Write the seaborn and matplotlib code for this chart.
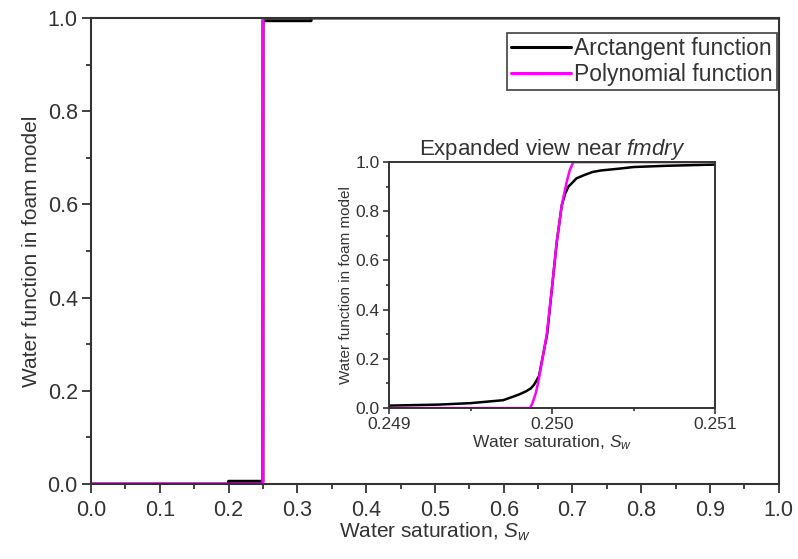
import numpy as np
import pandas as pd
import matplotlib
matplotlib.use("Agg")
import matplotlib.pyplot as plt
import seaborn as sns
from matplotlib.ticker import MultipleLocator

# main view, values
main_sw_arctan = [0.0, 0.2, 0.2, 0.2499, 0.24995, 0.25, 0.25005, 0.2501, 0.2501, 0.32, 0.32, 1.0]
main_fw_arctan = [0.0, 0.0, 0.006, 0.006, 0.3, 0.5, 0.7, 0.994, 0.994, 0.994, 1.0, 1.0]
main_sw_poly = [0.0, 0.2499, 0.25, 0.2501, 1.0]
main_fw_poly = [0.0, 0.0, 0.5, 1.0, 1.0]

# expanded view near fmdry
zoom_sw_arctan = [0.249, 0.2493, 0.2495, 0.2497, 0.24976, 0.2498, 0.24984, 0.24987, 0.24989,
                  0.24992, 0.24997, 0.25, 0.25003, 0.25006, 0.25008, 0.2501, 0.25013,
                  0.25015, 0.2502, 0.25025, 0.2503, 0.25042, 0.2505, 0.2507, 0.251]
zoom_fw_arctan = [0.01, 0.014, 0.02, 0.032, 0.046, 0.056, 0.068, 0.08, 0.095,
                  0.13, 0.3, 0.49, 0.68, 0.825, 0.87, 0.9, 0.92,
                  0.934, 0.948, 0.96, 0.966, 0.974, 0.98, 0.985, 0.99]
zoom_sw_poly = [0.249, 0.249865, 0.24988, 0.2499, 0.249916, 0.249967, 0.25, 0.250029,
                0.25006, 0.25009, 0.25011, 0.250131, 0.251]
zoom_fw_poly = [0.0, 0.0, 0.02, 0.06, 0.107, 0.297, 0.49, 0.676, 0.825, 0.92, 0.97, 1.0, 1.0]

labels = ["Arctangent function", "Polynomial function"]
colors = {"Arctangent function": "black", "Polynomial function": "#ff00ff"}

main_df = pd.concat([
    pd.DataFrame({"sw": main_sw_arctan, "fw": main_fw_arctan, "curve": labels[0]}),
    pd.DataFrame({"sw": main_sw_poly, "fw": main_fw_poly, "curve": labels[1]}),
])
zoom_df = pd.concat([
    pd.DataFrame({"sw": zoom_sw_arctan, "fw": zoom_fw_arctan, "curve": labels[0]}),
    pd.DataFrame({"sw": zoom_sw_poly, "fw": zoom_fw_poly, "curve": labels[1]}),
])

sns.set_theme(style="ticks")
plt.rcParams["font.family"] = ["Liberation Sans", "DejaVu Sans"]
plt.rcParams["mathtext.fontset"] = "custom"
plt.rcParams["mathtext.rm"] = "Liberation Sans"
plt.rcParams["mathtext.it"] = "Liberation Sans:italic"

spine_col = "#333333"
text_col = "#333333"

fig = plt.figure(figsize=(7.98, 5.59), dpi=100)
ax = fig.add_axes([0.114, 0.134, 0.862, 0.834])

sns.lineplot(data=main_df, x="sw", y="fw", hue="curve", palette=colors,
             sort=False, estimator=None, linewidth=2.2, ax=ax)
ax.set_xlim(0, 1)
ax.set_ylim(0, 1)
ax.xaxis.set_major_locator(MultipleLocator(0.1))
ax.xaxis.set_minor_locator(MultipleLocator(0.05))
ax.yaxis.set_major_locator(MultipleLocator(0.2))
ax.yaxis.set_minor_locator(MultipleLocator(0.1))
ax.set_xticklabels([f"{v:.1f}" for v in ax.get_xticks()])
ax.set_yticklabels([f"{v:.1f}" for v in ax.get_yticks()])
ax.tick_params(which="major", direction="out", length=6.5, width=1.3, labelsize=15.5,
               colors=spine_col, labelcolor=text_col, top=False, right=False)
ax.tick_params(axis="y", which="major", pad=3)
ax.tick_params(axis="x", which="major", pad=5)
ax.tick_params(which="minor", direction="out", length=3.5, width=1.3,
               colors=spine_col, top=False, right=False)
for s in ax.spines.values():
    s.set_color(spine_col)
    s.set_linewidth(1.5)
ax.set_xlabel("Water saturation, $\\mathit{S}_w$", fontsize=15, color=text_col, labelpad=0)
ax.set_ylabel("Water function in foam model", fontsize=15, color=text_col, labelpad=5)

leg = ax.legend(loc="upper right", bbox_to_anchor=(0.998, 0.968), fontsize=16.5,
                frameon=True, fancybox=False, handlelength=2.6, handletextpad=0.15,
                borderpad=0.2, labelspacing=0.1, borderaxespad=0.0)
leg.get_frame().set_edgecolor("#222222")
leg.get_frame().set_linewidth(1.3)
for line in leg.get_lines():
    line.set_linewidth(2.2)
for t in leg.get_texts():
    t.set_color(text_col)

# inset
axi = fig.add_axes([0.4875, 0.270, 0.4085, 0.440])
sns.lineplot(data=zoom_df, x="sw", y="fw", hue="curve", palette=colors,
             sort=False, estimator=None, linewidth=1.8, ax=axi, legend=False)
axi.set_xlim(0.249, 0.251)
axi.set_ylim(0, 1)
axi.xaxis.set_major_locator(MultipleLocator(0.001))
axi.xaxis.set_minor_locator(MultipleLocator(0.0005))
axi.yaxis.set_major_locator(MultipleLocator(0.2))
axi.yaxis.set_minor_locator(MultipleLocator(0.1))
axi.set_xticklabels([f"{v:.3f}" for v in axi.get_xticks()])
axi.set_yticklabels([f"{v:.1f}" for v in axi.get_yticks()])
axi.tick_params(which="major", direction="out", length=4.5, width=1.2, labelsize=12.5,
                colors=spine_col, labelcolor=text_col, pad=2)
axi.tick_params(which="minor", direction="out", length=2.5, width=1.2, colors=spine_col)
for s in axi.spines.values():
    s.set_color(spine_col)
    s.set_linewidth(1.4)
axi.set_xlabel("Water saturation, $\\mathit{S}_w$", fontsize=12.5, color=text_col, labelpad=1)
axi.set_ylabel("Water function in foam model", fontsize=11, color=text_col, labelpad=2)
axi.set_title("Expanded view near $\\mathit{fmdry}$", fontsize=16, color=text_col, pad=3)

fig.savefig("out.png", dpi=100)
